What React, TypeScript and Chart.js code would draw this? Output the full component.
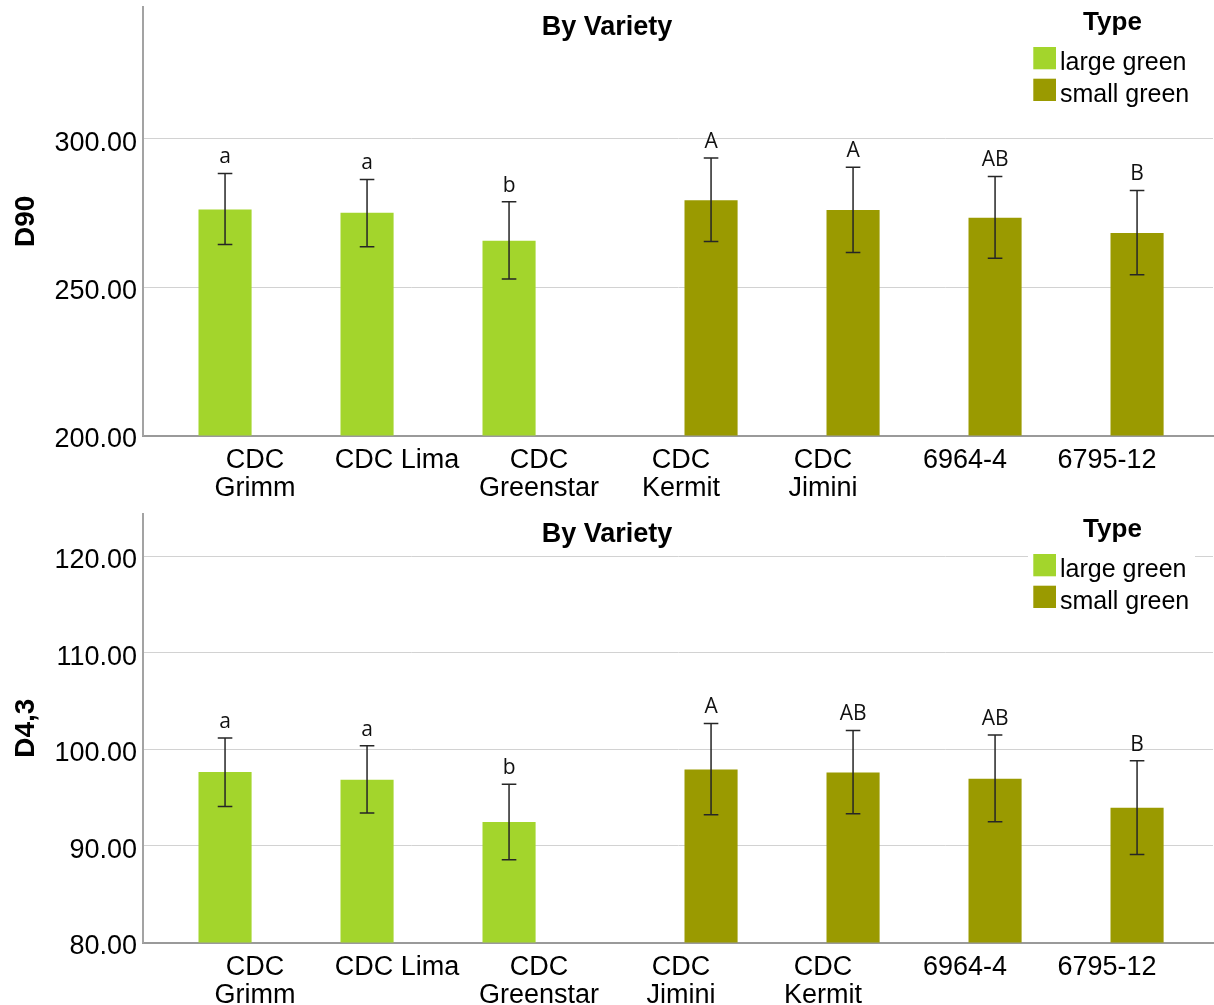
import React, { useEffect, useRef } from "react";
import { Chart, registerables } from "chart.js";

Chart.register(...registerables);

// ---------- data ----------
const TYPE_NAMES = ["large green", "small green"];
const TYPE_COLORS = ["#a3d52c", "#9a9a00"];

const D90_CATEGORIES: string[][] = [["CDC", "Grimm"], ["CDC Lima"], ["CDC", "Greenstar"], ["CDC", "Kermit"], ["CDC", "Jimini"], ["6964-4"], ["6795-12"]];
const D90_TYPES = [0, 0, 0, 1, 1, 1, 1];
const D90_MEANS = [276.2, 275.1, 265.6, 279.3, 276.0, 273.4, 268.2];
const D90_UPPER = [288.3, 286.3, 278.8, 293.5, 290.4, 287.3, 282.6];
const D90_LOWER = [264.4, 263.6, 252.7, 265.4, 261.7, 259.7, 254.2];
const D90_LETTERS = ["a", "a", "b", "A", "A", "AB", "B"];
const D90_Y_TICKS = [200, 250, 300];
const D90_Y_RANGE = [200, 344.4];

const D43_CATEGORIES: string[][] = [["CDC", "Grimm"], ["CDC Lima"], ["CDC", "Greenstar"], ["CDC", "Jimini"], ["CDC", "Kermit"], ["6964-4"], ["6795-12"]];
const D43_TYPES = [0, 0, 0, 1, 1, 1, 1];
const D43_MEANS = [97.66, 96.86, 92.48, 97.93, 97.62, 96.96, 93.96];
const D43_UPPER = [101.2, 100.38, 96.41, 102.7, 101.97, 101.49, 98.83];
const D43_LOWER = [94.1, 93.41, 88.57, 93.23, 93.34, 92.51, 89.12];
const D43_LETTERS = ["a", "a", "b", "A", "AB", "AB", "B"];
const D43_Y_TICKS = [80, 90, 100, 110, 120];
const D43_Y_RANGE = [80, 124.4];

const X_RANGE = [-0.789, 6.746];
const CHART_TITLE = "By Variety";
const LEGEND_TITLE = "Type";

interface Spec {
  yTitle: string;
  categories: string[][];
  types: number[];
  means: number[];
  upper: number[];
  lower: number[];
  letters: string[];
  yTicks: number[];
  yRange: number[];
}

const SPECS: Spec[] = [
  { yTitle: "D90", categories: D90_CATEGORIES, types: D90_TYPES, means: D90_MEANS, upper: D90_UPPER, lower: D90_LOWER, letters: D90_LETTERS, yTicks: D90_Y_TICKS, yRange: D90_Y_RANGE },
  { yTitle: "D4,3", categories: D43_CATEGORIES, types: D43_TYPES, means: D43_MEANS, upper: D43_UPPER, lower: D43_LOWER, letters: D43_LETTERS, yTicks: D43_Y_TICKS, yRange: D43_Y_RANGE },
];

const W = 1214;
const H = 507;
const FONT = "'Liberation Sans', Arial, sans-serif";

function makeChart(canvas: HTMLCanvasElement, spec: Spec) {
  const datasets = TYPE_NAMES.map((name, t) => ({
    label: name,
    data: spec.means
      .map((m, i) => ({ x: i, y: m, t: spec.types[i] }))
      .filter((p) => p.t === t)
      .map((p) => ({ x: p.x, y: p.y })),
    backgroundColor: TYPE_COLORS[t],
    borderWidth: 0,
    categoryPercentage: 0.845,
    barPercentage: 0.885,
  }));

  const overlay = {
    id: "overlay",
    afterDatasetsDraw(chart: any) {
      const ctx = chart.ctx;
      const y = chart.scales.y;
      ctx.save();
      chart.data.datasets.forEach((ds: any, di: number) => {
        const meta = chart.getDatasetMeta(di);
        meta.data.forEach((bar: any, j: number) => {
          const idx = ds.data[j].x;
          const cx = bar.x;
          const yu = y.getPixelForValue(spec.upper[idx]);
          const yl = y.getPixelForValue(spec.lower[idx]);
          ctx.strokeStyle = "#262626";
          ctx.lineWidth = 1.5;
          ctx.beginPath();
          ctx.moveTo(cx, yu);
          ctx.lineTo(cx, yl);
          ctx.moveTo(cx - 7.3, yu);
          ctx.lineTo(cx + 7.3, yu);
          ctx.moveTo(cx - 7.3, yl);
          ctx.lineTo(cx + 7.3, yl);
          ctx.stroke();
          ctx.fillStyle = "#111";
          ctx.font = "21px 'Open Sans', sans-serif";
          ctx.textAlign = "center";
          ctx.textBaseline = "middle";
          ctx.fillText(spec.letters[idx], cx, yu - 16);
        });
      });
      ctx.restore();
    },
    afterDraw(chart: any) {
      const ctx = chart.ctx;
      ctx.save();
      // chart title
      ctx.fillStyle = "#000";
      ctx.font = `bold 27px ${FONT}`;
      ctx.textAlign = "center";
      ctx.textBaseline = "middle";
      ctx.fillText(CHART_TITLE, W / 2, 28);
      // legend
      ctx.fillStyle = "#fff";
      ctx.fillRect(1028, 4, 167, 104);
      ctx.fillStyle = "#000";
      ctx.font = `bold 26px ${FONT}`;
      ctx.textAlign = "center";
      ctx.textBaseline = "middle";
      ctx.fillText(LEGEND_TITLE, 1112.5, 23);
      TYPE_NAMES.forEach((name, t) => {
        const top = 47 + t * 31.7;
        ctx.fillStyle = TYPE_COLORS[t];
        ctx.fillRect(1033.3, top, 22.7, 22.3);
        ctx.fillStyle = "#000";
        ctx.font = `25px ${FONT}`;
        ctx.textAlign = "left";
        ctx.textBaseline = "alphabetic";
        ctx.fillText(name, 1060, top + 23);
      });
      ctx.restore();
    },
  };

  return new Chart(canvas, {
    type: "bar",
    data: { datasets } as any,
    plugins: [overlay],
    options: {
      animation: false,
      responsive: false,
      maintainAspectRatio: false,
      layout: { padding: { top: 7, right: 1, left: 0, bottom: 0 } },
      plugins: { legend: { display: false }, tooltip: { enabled: false }, title: { display: false } },
      scales: {
        x: {
          type: "linear",
          offset: false,
          min: X_RANGE[0],
          max: X_RANGE[1],
          grid: { display: false, drawTicks: false, offset: false },
          border: { display: true, color: "#9a9a9a", width: 2 },
          afterBuildTicks: (scale: any) => {
            scale.ticks = spec.categories.map((_, i) => ({ value: i }));
          },
          afterFit: (scale: any) => {
            scale.height = 71.5;
            scale.paddingLeft = 0;
            scale.paddingRight = 0;
          },
          ticks: {
            autoSkip: false,
            maxRotation: 0,
            minRotation: 0,
            padding: 11,
            color: "#000",
            font: { family: FONT, size: 27, lineHeight: 1.03 },
            callback: (v: any) => spec.categories[v] ?? "",
          },
        },
        y: {
          type: "linear",
          min: spec.yRange[0],
          max: spec.yRange[1],
          grid: { color: "#d2d2d2", lineWidth: 1, drawTicks: false },
          border: { display: true, color: "#a3a3a3", width: 2 },
          afterBuildTicks: (scale: any) => {
            scale.ticks = spec.yTicks.map((v) => ({ value: v }));
          },
          afterFit: (scale: any) => {
            scale.width = 143;
            scale.paddingTop = 0;
            scale.paddingBottom = 0;
          },
          ticks: {
            padding: 6,
            labelOffset: 4.5,
            color: "#000",
            font: { family: FONT, size: 27 },
            callback: (v: any) => Number(v).toFixed(2),
          },
          title: {
            display: true,
            text: spec.yTitle,
            color: "#000",
            font: { family: FONT, size: 28, weight: "bold" },
            padding: { top: 9, bottom: 0 },
          },
        },
      },
    } as any,
  });
}

function ChartPanel({ spec, top }: { spec: Spec; top: number }) {
  const ref = useRef<HTMLCanvasElement | null>(null);
  useEffect(() => {
    if (!ref.current) return;
    const c = makeChart(ref.current, spec);
    return () => c.destroy();
  }, [spec]);
  return (
    <canvas
      ref={ref}
      width={W}
      height={H}
      style={{ position: "absolute", left: 0, top, width: W, height: H, display: "block" }}
    />
  );
}

export default function App() {
  return (
    <div style={{ position: "absolute", left: 0, top: 0, width: W, height: 1005, overflow: "hidden", background: "#fff" }}>
      <ChartPanel spec={SPECS[0]} top={0} />
      <ChartPanel spec={SPECS[1]} top={507} />
    </div>
  );
}
